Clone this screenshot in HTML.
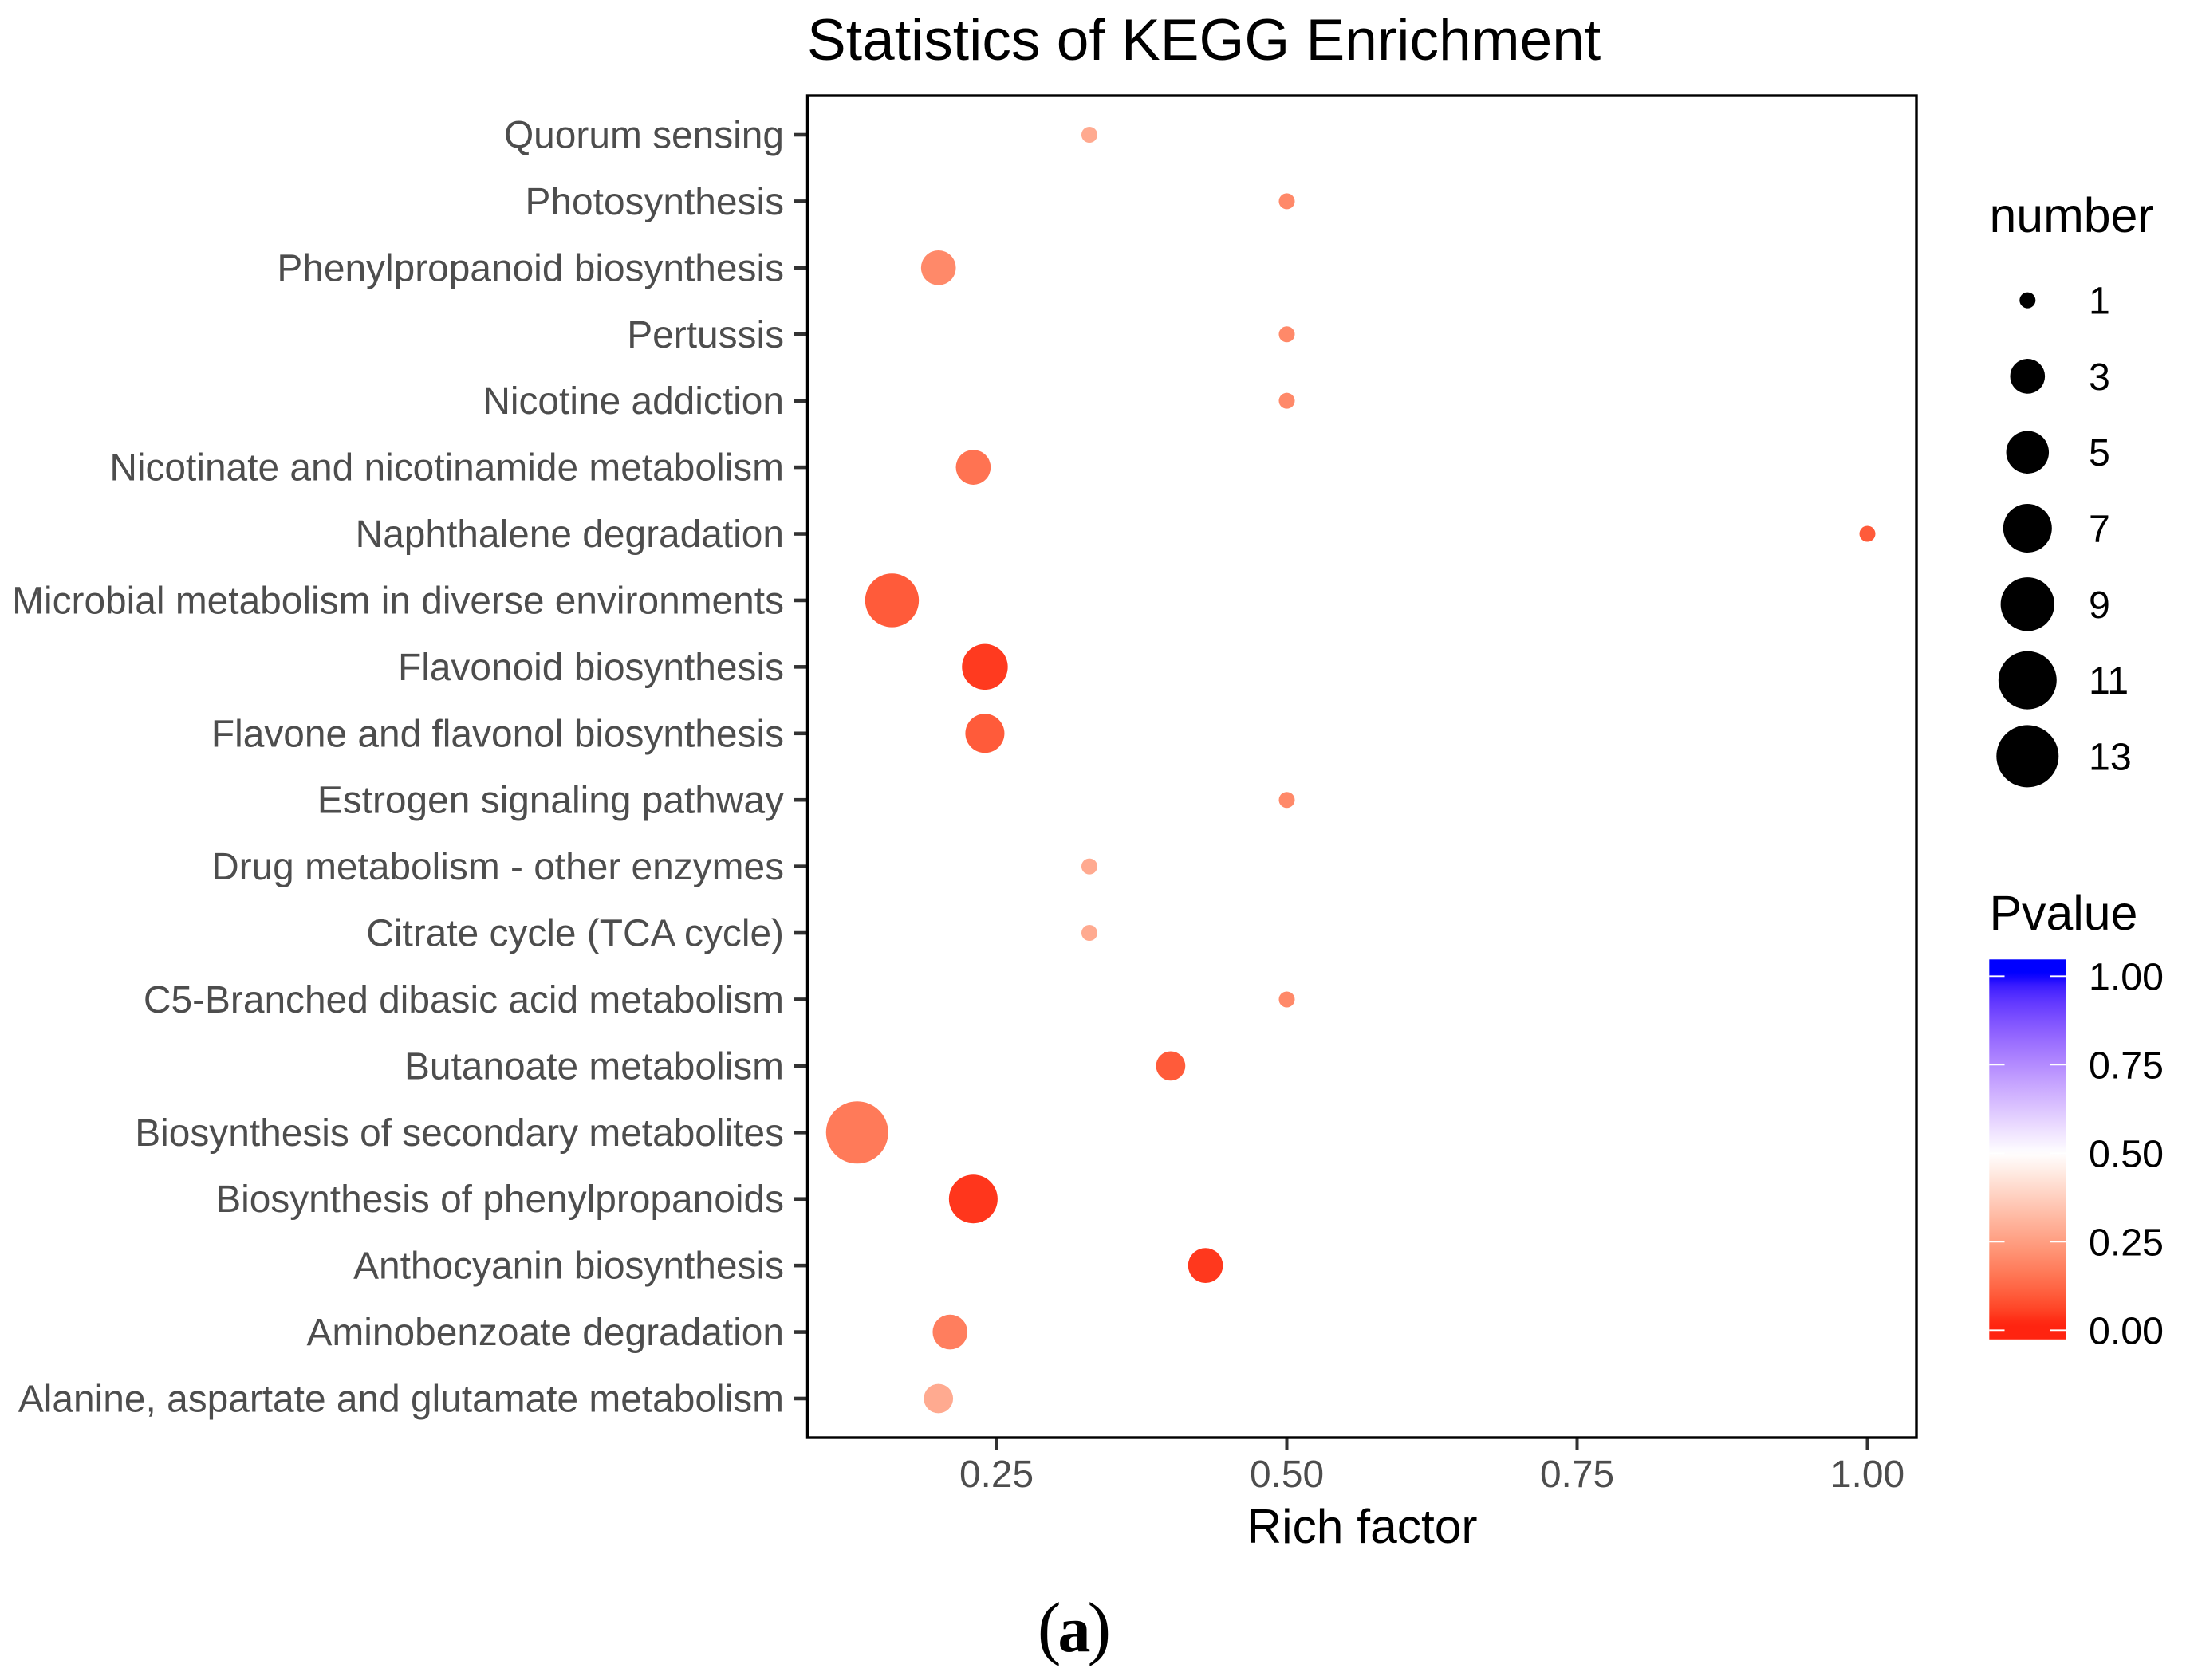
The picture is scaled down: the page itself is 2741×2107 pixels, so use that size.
<!DOCTYPE html>
<html>
<head>
<meta charset="utf-8">
<title>Statistics of KEGG Enrichment</title>
<style>
html,body{margin:0;padding:0;background:#fff;}
svg{display:block;font-family:"Liberation Sans",sans-serif;}
</style>
</head>
<body>
<svg id="chart" xmlns="http://www.w3.org/2000/svg" width="2741" height="2107" viewBox="0 0 2741 2107">
  <defs>
    <linearGradient id="pvalue-gradient" x1="0" y1="1" x2="0" y2="0"></linearGradient>
  </defs>
  <rect x="0" y="0" width="2741" height="2107" fill="#fff"/>
  <text x="1012" y="75" font-size="73.1" fill="#000">Statistics of KEGG Enrichment</text>
  <g id="y-axis"></g>
  <g id="x-axis"></g>
  <g id="points"></g>
  <rect x="1012.5" y="120" width="1390.5" height="1683" fill="none" stroke="#000" stroke-width="3.4"/>
  <text x="1708" y="1935" font-size="60.5" text-anchor="middle" fill="#000">Rich factor</text>
  <text x="2494.5" y="291" font-size="60.8" fill="#000">number</text>
  <g id="size-legend"></g>
  <text x="2494.5" y="1166" font-size="60.8" fill="#000">Pvalue</text>
  <g id="color-legend"></g>
  <text x="1345" y="2071" font-size="89" text-anchor="middle" fill="#000" letter-spacing="-4" style="font-family:'Liberation Serif',serif">(<tspan font-size="82" font-weight="bold">a</tspan>)</text>
</svg>
<script>
const categories = [
  "Quorum sensing",
  "Photosynthesis",
  "Phenylpropanoid biosynthesis",
  "Pertussis",
  "Nicotine addiction",
  "Nicotinate and nicotinamide metabolism",
  "Naphthalene degradation",
  "Microbial metabolism in diverse environments",
  "Flavonoid biosynthesis",
  "Flavone and flavonol biosynthesis",
  "Estrogen signaling pathway",
  "Drug metabolism - other enzymes",
  "Citrate cycle (TCA cycle)",
  "C5-Branched dibasic acid metabolism",
  "Butanoate metabolism",
  "Biosynthesis of secondary metabolites",
  "Biosynthesis of phenylpropanoids",
  "Anthocyanin biosynthesis",
  "Aminobenzoate degradation",
  "Alanine, aspartate and glutamate metabolism"
];
const richFactor = [0.33,0.5,0.2,0.5,0.5,0.23,1.0,0.16,0.24,0.24,0.5,0.33,0.33,0.5,0.4,0.13,0.23,0.43,0.21,0.2];
const geneNumber = [1,1,3,1,1,3,1,9,6,4,1,1,1,1,2,13,7,3,3,2];
const pValue = [0.28,0.2,0.2,0.2,0.2,0.15,0.1,0.1,0.045,0.1,0.2,0.28,0.28,0.2,0.1,0.165,0.04,0.042,0.175,0.28];
const xTicks = [0.25,0.5,0.75,1.0];
const xTickLabels = ["0.25","0.50","0.75","1.00"];
const sizeLegendValues = [1,3,5,7,9,11,13];
const colorLegendTicks = [0,0.25,0.5,0.75,1];
const colorLegendLabels = ["0.00","0.25","0.50","0.75","1.00"];

const NS = "http://www.w3.org/2000/svg";
function make(tag, parent, attrs, text) {
  const el = document.createElementNS(NS, tag);
  for (const k in attrs) el.setAttribute(k, attrs[k]);
  if (text !== undefined) el.textContent = text;
  parent.appendChild(el);
  return el;
}
function slug(s) { return s.toLowerCase().replace(/[^a-z0-9]+/g, "-").replace(/^-|-$/g, ""); }

/* axis functions */
const xScale = v => 1249.5 + (v - 0.25) * 1456;
const yScale = i => 169 + i * 83.42;
const sizeScale = n => 10 + 29 * Math.sqrt((n - 1) / 12);
const legendY = i => 376.6 + i * 95.3;
const colorBarY = v => 1668.3 - v * 444;

/* Lab interpolation red - white - blue, midpoint 0.5 */
const LOW = [53.24, 80.09, 67.2], MID = [100, 0, 0], HIGH = [32.3, 79.19, -107.86];
function labToHex(L, a, b) {
  const fy = (L + 16) / 116, fx = fy + a / 500, fz = fy - b / 200;
  const inv = f => f * f * f > 0.008856 ? f * f * f : (f - 16 / 116) / 7.787;
  const X = 0.95047 * inv(fx), Y = inv(fy), Z = 1.08883 * inv(fz);
  const lin = [3.2406 * X - 1.5372 * Y - 0.4986 * Z, -0.9689 * X + 1.8758 * Y + 0.0415 * Z, 0.0557 * X - 0.204 * Y + 1.057 * Z];
  return "#" + lin.map(c => {
    c = Math.min(1, Math.max(0, c));
    const s = c <= 0.0031308 ? 12.92 * c : 1.055 * Math.pow(c, 1 / 2.4) - 0.055;
    return Math.round(s * 255).toString(16).padStart(2, "0");
  }).join("");
}
function colorScale(p) {
  p = Math.min(1, Math.max(0, p));
  const from = p < 0.5 ? LOW : MID, to = p < 0.5 ? MID : HIGH, t = p < 0.5 ? p / 0.5 : (p - 0.5) / 0.5;
  return labToHex(from[0] + (to[0] - from[0]) * t, from[1] + (to[1] - from[1]) * t, from[2] + (to[2] - from[2]) * t);
}

/* y axis */
const yAxis = document.getElementById("y-axis");
categories.forEach((c, i) => {
  const tick = make("line", yAxis, {x1: 996, x2: 1012, y1: yScale(i), y2: yScale(i), stroke: "#333", "stroke-width": 4.6});
  
  
  const label = make("text", yAxis, {x: 983, y: yScale(i) + 16.5, "text-anchor": "end", "font-size": 47.85, fill: "#4d4d4d"}, c);
  
  
});

/* x axis */
const xAxis = document.getElementById("x-axis");
xTicks.forEach((v, i) => {
  const tick = make("line", xAxis, {x1: xScale(v), x2: xScale(v), y1: 1803, y2: 1819, stroke: "#333", "stroke-width": 4});
  
  
  const label = make("text", xAxis, {x: xScale(v), y: 1865, "text-anchor": "middle", "font-size": 47.85, fill: "#4d4d4d"}, xTickLabels[i]);
  
  
});

/* points */
const pointsGroup = document.getElementById("points");
categories.forEach((c, i) => {
  const pt = make("circle", pointsGroup, {cx: xScale(richFactor[i]), cy: yScale(i), r: sizeScale(geneNumber[i]), fill: colorScale(pValue[i])});
  
  
});

/* size legend */
const sizeLegend = document.getElementById("size-legend");
sizeLegendValues.forEach((n, i) => {
  const dot = make("circle", sizeLegend, {cx: 2542.3, cy: legendY(i), r: sizeScale(n), fill: "#000"});
  
  
  const label = make("text", sizeLegend, {x: 2619, y: legendY(i) + 17, "font-size": 48.3, fill: "#000"}, String(n));
  
  
});

/* colour legend */
const gradient = document.getElementById("pvalue-gradient");
const barTop = 1203.3, barBottom = 1679.8;
for (let k = 0; k <= 60; k++) {
  const frac = k / 60;
  const value = (colorBarY(0) - (barBottom - frac * (barBottom - barTop))) / 444;
  make("stop", gradient, {offset: frac, "stop-color": colorScale(Math.max(value, 0.02))});
}
const colorLegend = document.getElementById("color-legend");
const bar = make("rect", colorLegend, {x: 2494.3, y: barTop, width: 95.7, height: barBottom - barTop, fill: "url(#pvalue-gradient)"});


colorLegendTicks.forEach((v, i) => {
  const y = colorBarY(v);
  const left = make("line", colorLegend, {x1: 2494.3, x2: 2513.5, y1: y, y2: y, stroke: "#fff", "stroke-width": 1.8});
  
  
  const right = make("line", colorLegend, {x1: 2570.8, x2: 2590, y1: y, y2: y, stroke: "#fff", "stroke-width": 1.8});
  
  
  const label = make("text", colorLegend, {x: 2619, y: y + 17, "font-size": 48.3, fill: "#000"}, colorLegendLabels[i]);
  
  
});
</script>
</body>
</html>
